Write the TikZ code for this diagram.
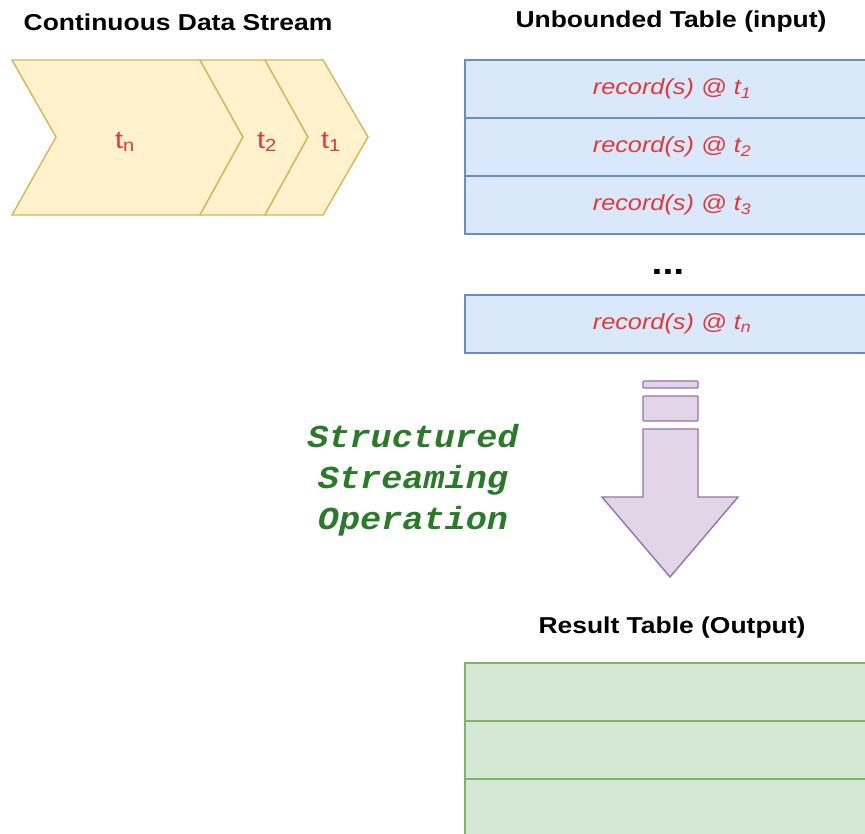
\documentclass[tikz,border=0pt]{standalone}
\usepackage{fontspec}
\setsansfont{Liberation Sans}[FakeStretch=1.15]
\newfontfamily\codefont{Liberation Mono}[FakeStretch=1.1]
\usepackage{tikz}
\usetikzlibrary{positioning}
\definecolor{amarillo}{HTML}{FFF2CC}
\definecolor{amarilloborde}{HTML}{D6B656}
\definecolor{azulclaro}{HTML}{DAE8FC}
\definecolor{azulborde}{HTML}{6C8EBF}
\definecolor{verdeclaro}{HTML}{D5E8D4}
\definecolor{verdeborde}{HTML}{82B366}
\definecolor{lila}{HTML}{E1D5E7}
\definecolor{lilaborde}{HTML}{9673A6}
\definecolor{rojo}{HTML}{DE3A3A}
\definecolor{verdeoscuro}{HTML}{2A7A2A}
\begin{document}
\begin{tikzpicture}[
  x=1pt, y=-1pt,
  node distance=0pt,
  titulo/.style={font=\fontsize{23}{28}\selectfont\sffamily\bfseries,
                 text=black, inner sep=0pt},
  chevron/.style={fill=amarillo, draw=amarilloborde, line width=1.4pt,
                  line join=miter},
  etiq/.style={font=\fontsize{25}{30}\selectfont\sffamily, text=rojo},
  fila/.style={
    rectangle, fill=azulclaro, draw=azulborde, line width=1.8pt,
    outer sep=0pt,
    minimum width=414pt, minimum height=58pt, inner sep=0pt,
    font=\fontsize{22}{26}\selectfont\sffamily\itshape, text=rojo
  },
  filav/.style={fila, fill=verdeclaro, draw=verdeborde},
  flecha/.style={fill=lila, draw=lilaborde, line width=1.4pt},
  operacion/.style={font=\fontsize{32}{41}\selectfont\codefont\bfseries\itshape,
                    text=verdeoscuro, align=center}
]
  \path[use as bounding box, clip] (0,0) rectangle (865,834);

  % flujo continuo
  \node[titulo] (tflujo) at (178,22) {Continuous Data Stream};
  \draw[chevron] (12,60) -- (200,60) -- (243,137) -- (200,215)
    -- (12,215) -- (56,137) -- cycle;
  \draw[chevron] (200,60) -- (265,60) -- (308,137) -- (265,215)
    -- (200,215) -- (243,137) -- cycle;
  \draw[chevron] (265,60) -- (323,60) -- (368,137) -- (323,215)
    -- (265,215) -- (308,137) -- cycle;
  \node[etiq] (tn) at (125,142) {t\textsubscript{n}};
  \node[etiq] (t2) at (267,142) {t\textsubscript{2}};
  \node[etiq] (t1) at (331,142) {t\textsubscript{1}};

  % tabla de entrada
  \node[titulo] (tentrada) at (671,22) {Unbounded Table (input)};
  \node[fila, anchor=north west] (f1) at (465,60) {record(s) @ t\textsubscript{1}};
  \node[fila, below=of f1] (f2) {record(s) @ t\textsubscript{2}};
  \node[fila, below=of f2] (f3) {record(s) @ t\textsubscript{3}};
  \node[font=\fontsize{34}{38}\selectfont\sffamily\bfseries, anchor=base]
    (puntos) at (668,275) {...};
  \node[fila, anchor=north west] (fn) at (465,295) {record(s) @ t\textsubscript{n}};

  % operacion
  \draw[flecha, rounded corners=1pt] (643,381) rectangle (698,388);
  \draw[flecha, rounded corners=1pt] (643,396) rectangle (698,421);
  \draw[flecha] (643,429) -- (698,429) -- (698,497) -- (738,497)
    -- (670,577) -- (602,497) -- (643,497) -- cycle;
  \node[operacion] (op) at (413,480) {Structured\\Streaming\\Operation};

  % tabla de resultado
  \node[titulo] (tresultado) at (672,628) {Result Table (Output)};
  \node[filav, anchor=north west] (r1) at (465,663) {};
  \node[filav, below=of r1] (r2) {};
  \node[filav, below=of r2] (r3) {};
\end{tikzpicture}
\end{document}
